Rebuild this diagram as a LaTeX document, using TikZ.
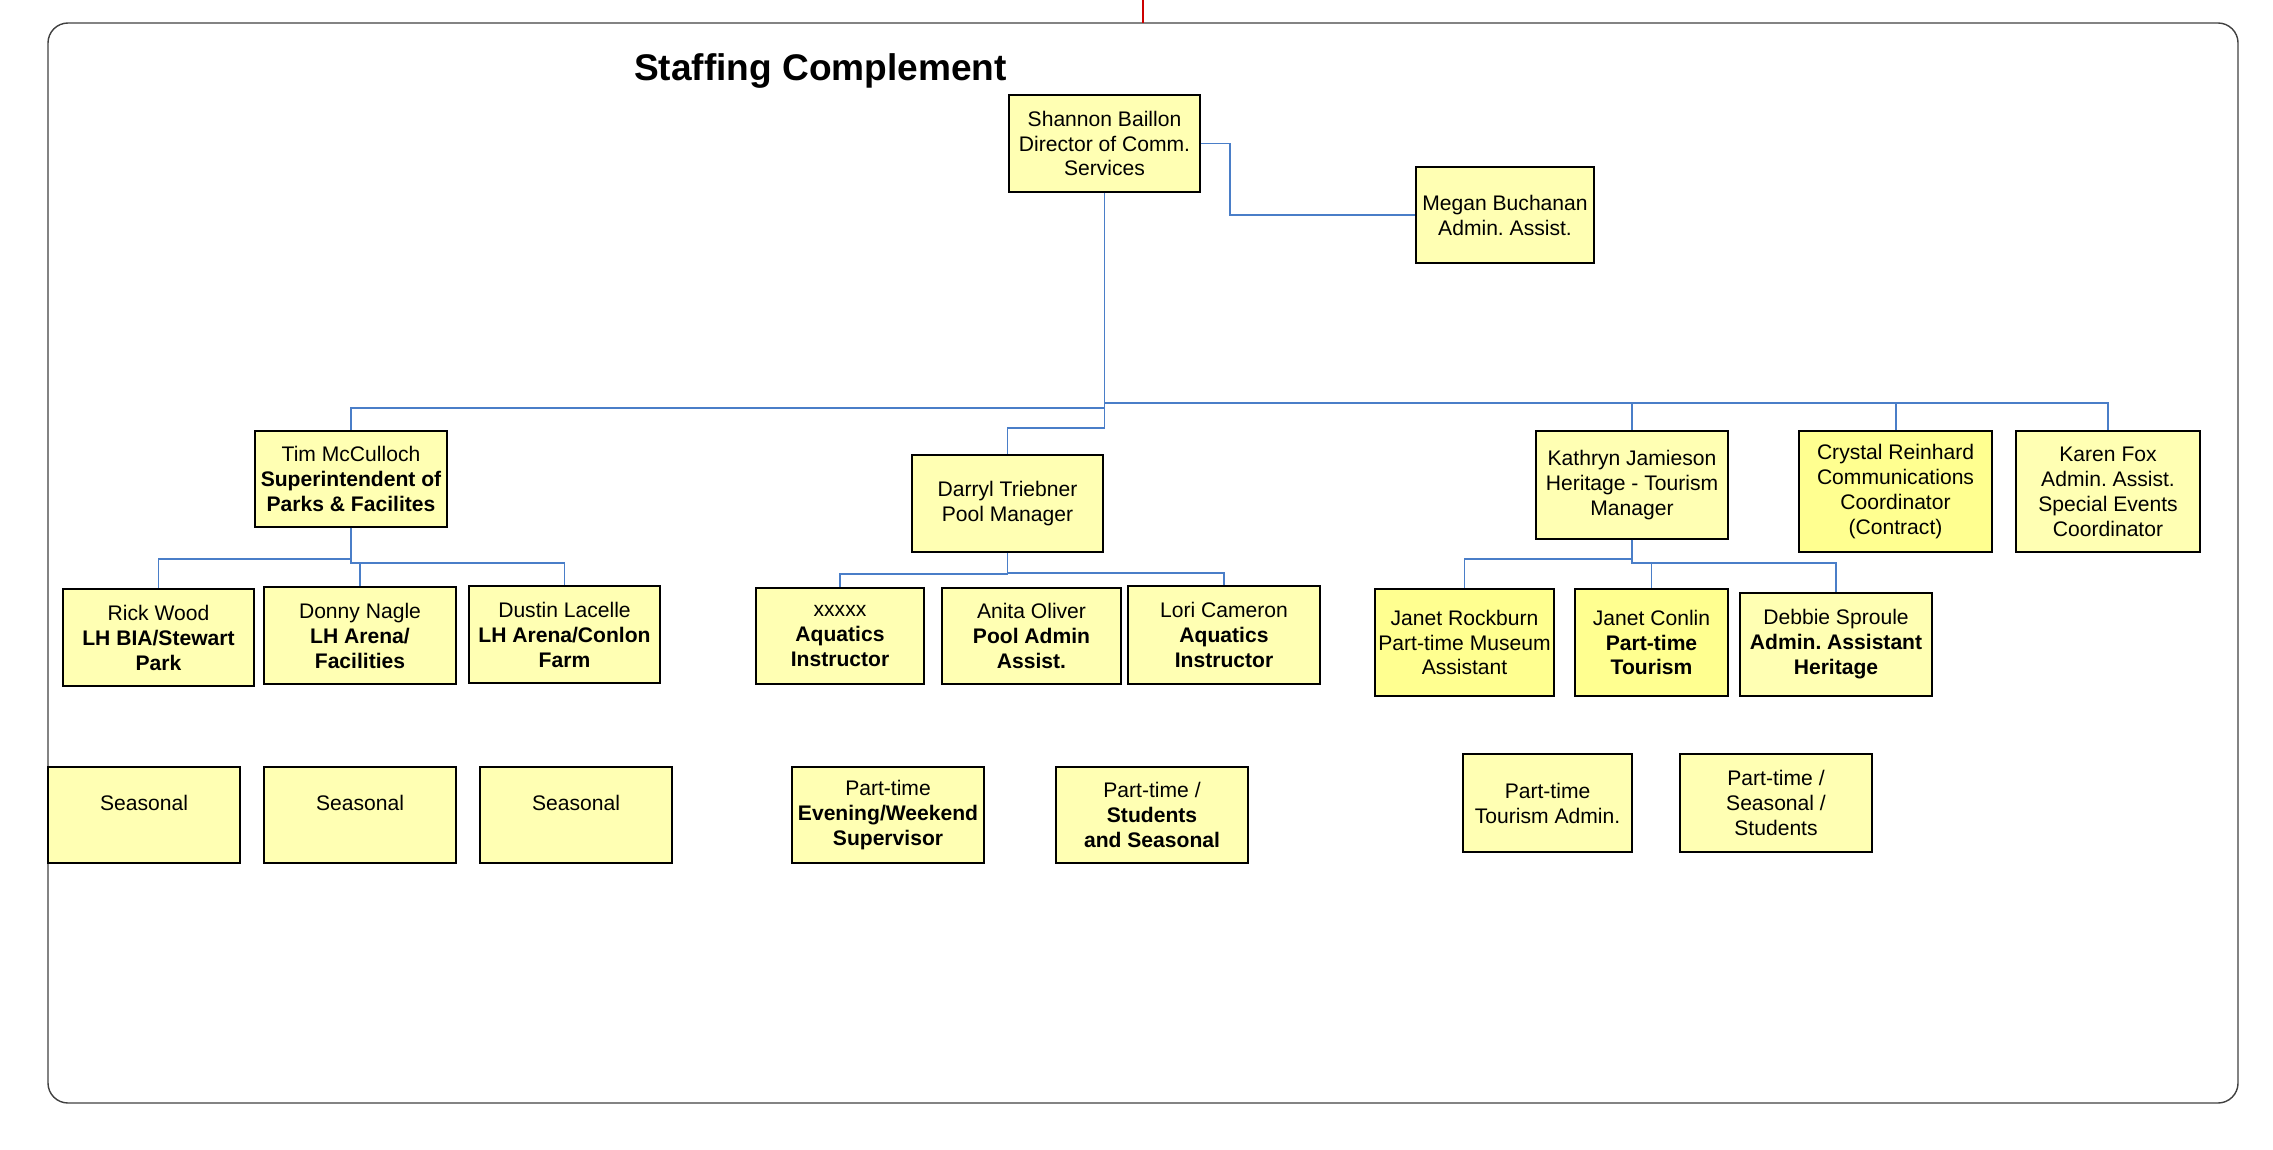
\documentclass[tikz,border=0pt]{standalone}
\usepackage{fontspec}
\setmainfont{Liberation Sans}
\frenchspacing
\definecolor{paleyel}{HTML}{FFFFB3}
\definecolor{deepyel}{HTML}{FFFF90}
\definecolor{linkblue}{HTML}{4A7EC8}

\begin{document}
\begin{tikzpicture}[
    post/.style={draw=black, line width=0.55pt, fill=paleyel, align=center, inner sep=0pt,
        minimum width=1.92cm, minimum height=0.97cm, font=\fontsize{6}{7.1}\selectfont},
    hot/.style={post, fill=deepyel},
    link/.style={linkblue, line width=0.55pt}
]
    % Marco
    \useasboundingbox (0,0) rectangle (22.73,-11.49);
    \draw[black!75, line width=0.4pt, rounded corners=0.2cm] (0.48,-0.23) rectangle (22.38,-11.03);
    \coordinate (redtop) at (11.43,0);
    \coordinate (redbot) at (11.43,-0.23);
    \draw[red!80!black, line width=0.5pt] (redtop) -- (redbot);

    % Titulo
    \node[anchor=base, font=\bfseries\fontsize{10.55}{12}\selectfont] (title) at (8.205,-0.80) {Staffing Complement};

    % Director y asistente
    \node[post, minimum width=1.91cm] (shannon) at (11.045,-1.435) {Shannon Baillon\\Director of Comm.\\Services};
    \node[post, minimum width=1.78cm, minimum height=0.96cm] (megan) at (15.05,-2.15) {Megan Buchanan\\Admin. Assist.};

    % Segundo nivel
    \node[post, minimum height=0.96cm] (tim) at (3.51,-4.79) {Tim McCulloch\\\textbf{Superintendent of}\\\textbf{Parks \& Facilites}};
    \node[post, minimum width=1.91cm] (darryl) at (10.075,-5.035) {Darryl Triebner\\Pool Manager};
    \node[post, minimum height=1.08cm] (kathryn) at (16.32,-4.85) {Kathryn Jamieson\\Heritage - Tourism\\Manager};
    \node[hot, minimum width=1.93cm, minimum height=1.21cm] (crystal) at (18.955,-4.915) {Crystal Reinhard\\Communications\\Coordinator\\(Contract)};
    \node[post, minimum width=1.84cm, minimum height=1.21cm] (karen) at (21.08,-4.915) {Karen Fox\\Admin. Assist.\\Special Events\\Coordinator};

    % Tercer nivel
    \node[post, minimum width=1.91cm] (rick) at (1.585,-6.375) {Rick Wood\\\textbf{LH BIA/Stewart}\\\textbf{Park}};
    \node[post] (donny) at (3.60,-6.355) {Donny Nagle\\\textbf{LH Arena/}\\\textbf{Facilities}};
    \node[post, minimum width=1.91cm] (dustin) at (5.645,-6.345) {Dustin Lacelle\\\textbf{LH Arena/Conlon}\\\textbf{Farm}};
    \node[post, minimum width=1.68cm, minimum height=0.96cm] (xxx) at (8.40,-6.36) {xxxxx\\\textbf{Aquatics}\\\textbf{Instructor}};
    \node[post, minimum width=1.79cm, minimum height=0.96cm] (anita) at (10.315,-6.36) {Anita Oliver\\\textbf{Pool Admin}\\\textbf{Assist.}};
    \node[post, minimum height=0.98cm] (lori) at (12.24,-6.35) {Lori Cameron\\\textbf{Aquatics}\\\textbf{Instructor}};
    \node[hot, minimum width=1.79cm, minimum height=1.07cm] (janetr) at (14.645,-6.425) {Janet Rockburn\\Part-time Museum\\Assistant};
    \node[hot, minimum width=1.53cm, minimum height=1.07cm] (janetc) at (16.515,-6.425) {Janet Conlin\\\textbf{Part-time}\\\textbf{Tourism}};
    \node[post, minimum height=1.03cm] (debbie) at (18.36,-6.445) {Debbie Sproule\\\textbf{Admin. Assistant}\\\textbf{Heritage}};

    % Personal de temporada
    \node[post, minimum height=0.96cm] (seasA) at (1.44,-8.15) {Seasonal\\~};
    \node[post, minimum height=0.96cm] (seasB) at (3.60,-8.15) {Seasonal\\~};
    \node[post, minimum height=0.96cm] (seasC) at (5.76,-8.15) {Seasonal\\~};
    \node[post, minimum height=0.96cm] (evening) at (8.88,-8.15) {Part-time\\\textbf{Evening/Weekend}\\\textbf{Supervisor}};
    \node[post, minimum height=0.96cm] (students) at (11.52,-8.15) {Part-time /\\\textbf{Students}\\\textbf{and Seasonal}};
    \node[post, minimum width=1.69cm, minimum height=0.98cm] (touradm) at (15.475,-8.03) {Part-time\\Tourism Admin.};
    \node[post, minimum height=0.98cm] (ptss) at (17.76,-8.03) {Part-time /\\Seasonal /\\Students};

    % Lineas
    \draw[link] (shannon.east) -- ++(0.29,0) |- (megan.west);
    \draw[link] (shannon.south) -- ++(0,-2.15) -| (tim.north);
    \draw[link] (shannon.south) -- ++(0,-2.35) -| (darryl.north);
    \draw[link] (shannon.south) -- ++(0,-2.10) -| (kathryn.north);
    \draw[link] (shannon.south) -- ++(0,-2.10) -| (crystal.north);
    \draw[link] (shannon.south) -- ++(0,-2.10) -| (karen.north);

    \draw[link] (tim.south) -- ++(0,-0.31) -| (rick.north);
    \draw[link] (tim.south) -- ++(0,-0.35) -| (donny.north);
    \draw[link] (tim.south) -- ++(0,-0.35) -| (dustin.north);

    \draw[link] (darryl.south) -- ++(0,-0.21) -| (xxx.north);
    \draw[link] (darryl.south) -- ++(0,-0.20) -| (lori.north);

    \draw[link] (kathryn.south) -- ++(0,-0.19) -| (janetr.north);
    \draw[link] (kathryn.south) -- ++(0,-0.23) -| (janetc.north);
    \draw[link] (kathryn.south) -- ++(0,-0.23) -| (debbie.north);
\end{tikzpicture}
\end{document}
